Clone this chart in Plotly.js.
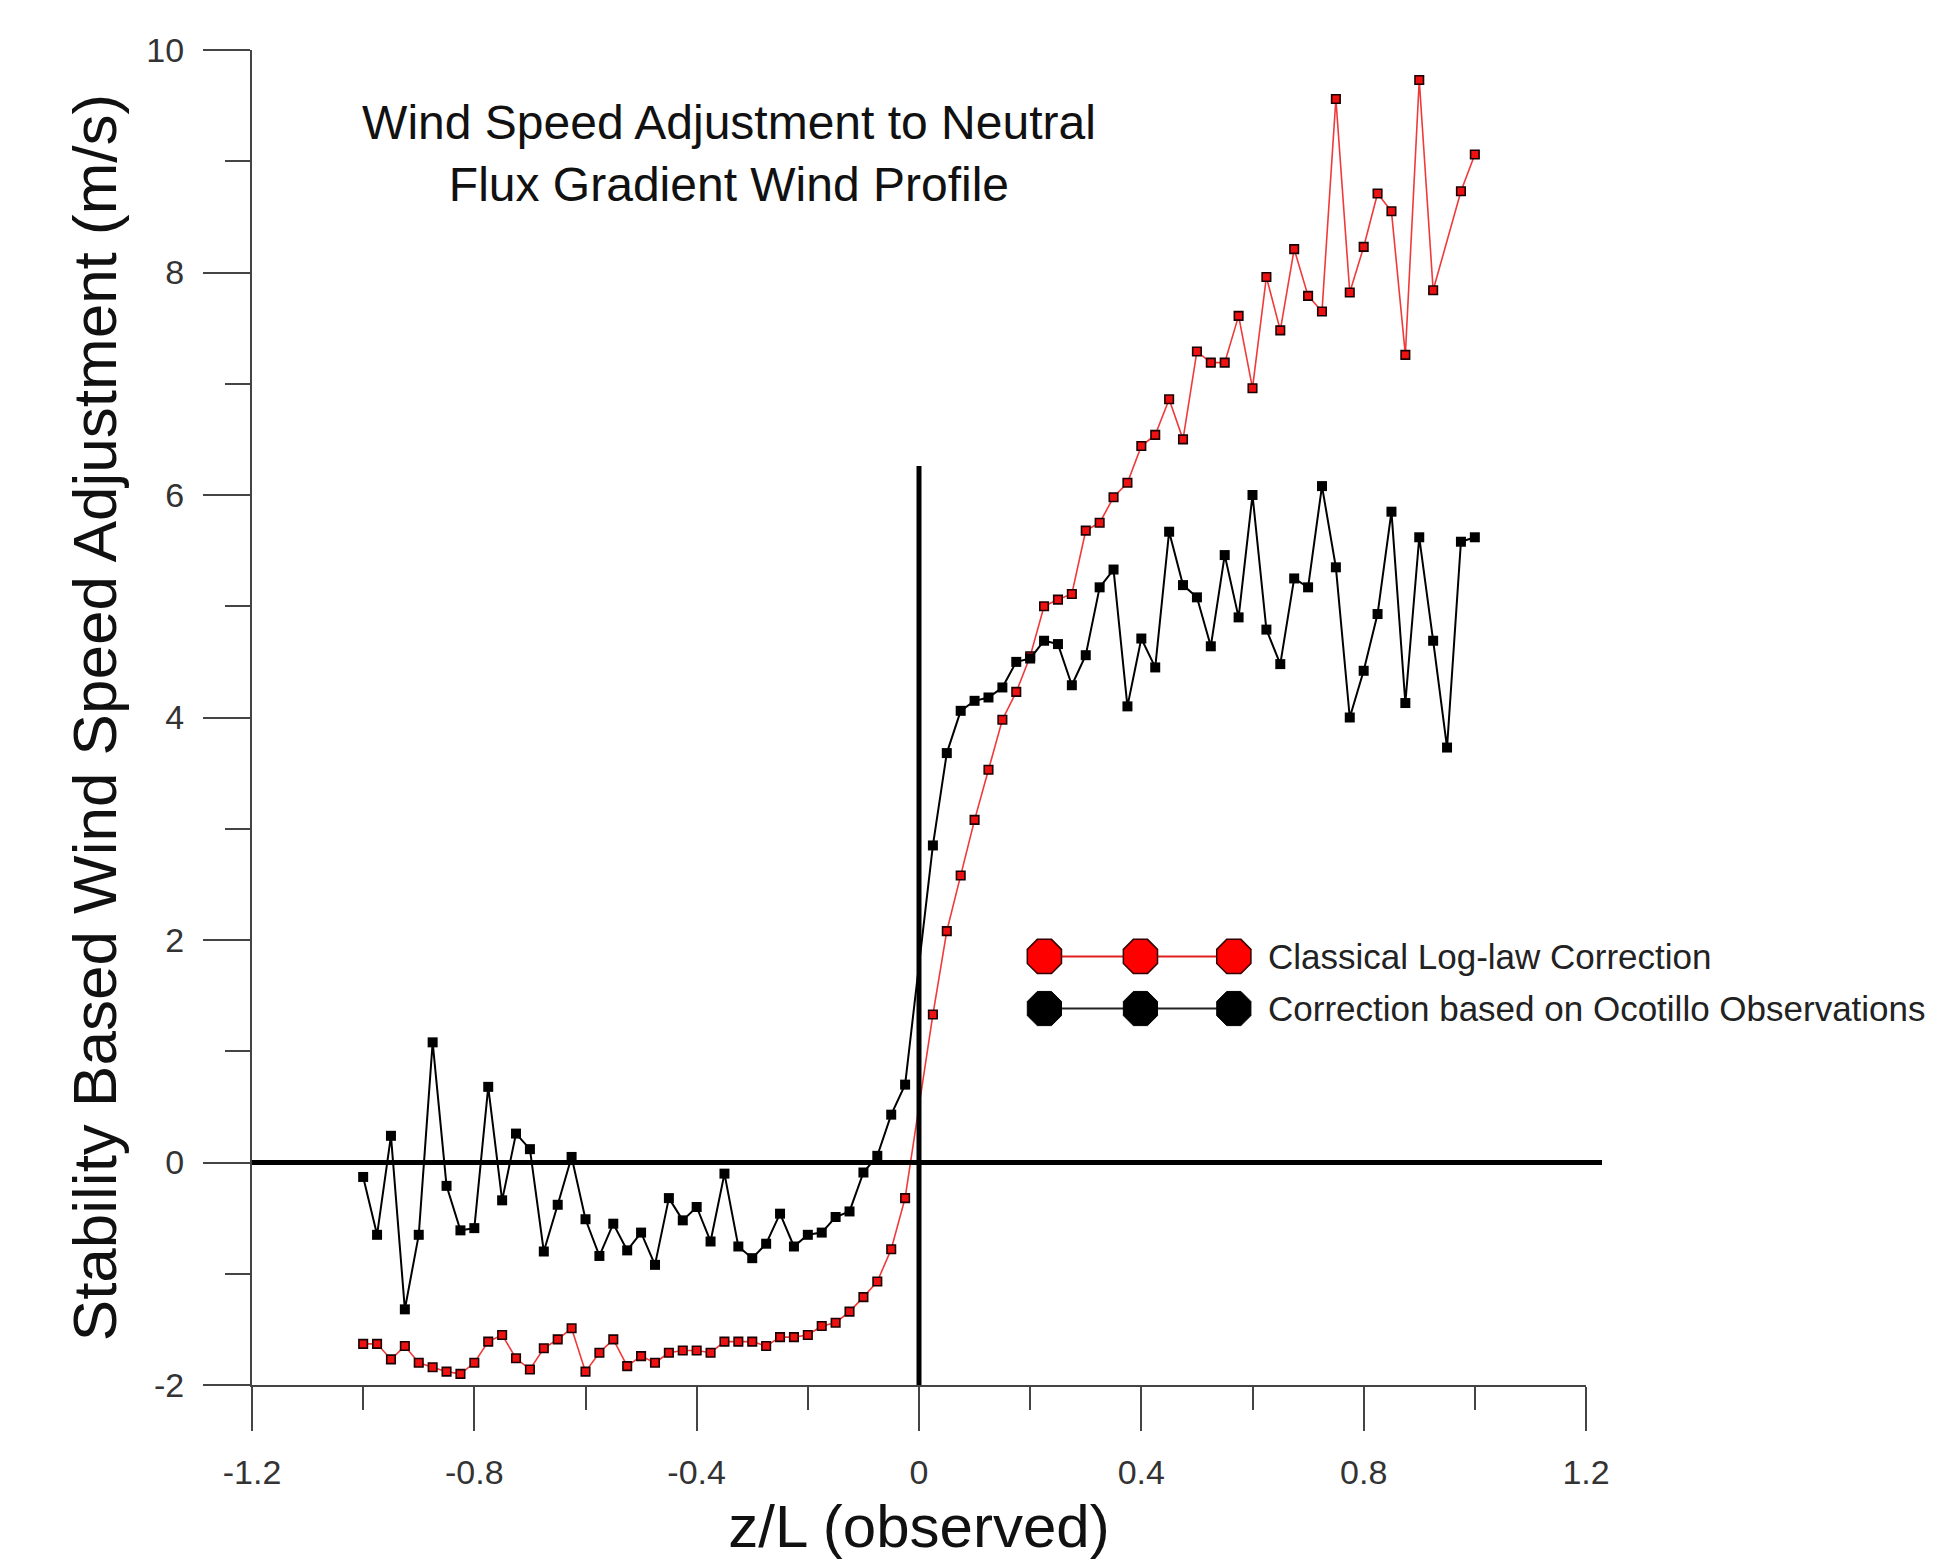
<!DOCTYPE html>
<html>
<head>
<meta charset="utf-8">
<script src="https://cdn.plot.ly/plotly-3.0.1.min.js"></script>
<style>
  html, body { margin: 0; padding: 0; background: #fff; }
  #chart { width: 1947px; height: 1562px; }
</style>
</head>
<body>
<div id="chart"></div>
<script>
// ---------------- DATA ----------------
const zL = [
  -1.000, -0.975, -0.950, -0.925, -0.900, -0.875, -0.850, -0.825, -0.800, -0.775,
  -0.750, -0.725, -0.700, -0.675, -0.650, -0.625, -0.600, -0.575, -0.550, -0.525,
  -0.500, -0.475, -0.450, -0.425, -0.400, -0.375, -0.350, -0.325, -0.300, -0.275,
  -0.250, -0.225, -0.200, -0.175, -0.150, -0.125, -0.100, -0.075, -0.050, -0.025,
   0.000,  0.025,  0.050,  0.075,  0.100,  0.125,  0.150,  0.175,  0.200,  0.225,
   0.250,  0.275,  0.300,  0.325,  0.350,  0.375,  0.400,  0.425,  0.450,  0.475,
   0.500,  0.525,  0.550,  0.575,  0.600,  0.625,  0.650,  0.675,  0.700,  0.725,
   0.750,  0.775,  0.800,  0.825,  0.850,  0.875,  0.900,  0.925,  0.950,  0.975,
   1.000
];

// Classical Log-law Correction (red)
const classicalLogLaw = [
  -1.63, -1.63, -1.77, -1.65, -1.80, -1.84, -1.88, -1.90, -1.80, -1.61,
  -1.55, -1.76, -1.86, -1.67, -1.59, -1.49, -1.88, -1.71, -1.59, -1.83,
  -1.74, -1.80, -1.71, -1.69, -1.69, -1.71, -1.61, -1.61, -1.61, -1.65,
  -1.57, -1.57, -1.55, -1.47, -1.44, -1.34, -1.21, -1.07, -0.78, -0.32,
  null,   1.33,  2.08,  2.58,  3.08,  3.53,  3.98,  4.23,  4.55,  5.00,
   5.06,  5.11,  5.68,  5.75,  5.98,  6.11,  6.44,  6.54,  6.86,  6.50,
   7.29,  7.19,  7.19,  7.61,  6.96,  7.96,  7.48,  8.21,  7.79,  7.65,
   9.56,  7.82,  8.23,  8.71,  8.55,  7.26,  9.73,  7.84,  null,   8.73,
   9.06
];

// Correction based on Ocotillo Observations (black)
const ocotilloObs = [
  -0.13, -0.65,  0.24, -1.32, -0.65,  1.08, -0.21, -0.61, -0.59,  0.68,
  -0.34,  0.26,  0.12, -0.80, -0.38,  0.05, -0.51, -0.84, -0.55, -0.79,
  -0.63, -0.92, -0.32, -0.52, -0.40, -0.71, -0.10, -0.755, -0.86, -0.73,
  -0.46, -0.755, -0.65, -0.63, -0.49, -0.44, -0.09,  0.06,  0.43,  0.70,
  null,   2.85,  3.68,  4.06,  4.15,  4.18,  4.27,  4.50,  4.53,  4.69,
   4.66,  4.29,  4.56,  5.17,  5.33,  4.10,  4.71,  4.45,  5.67,  5.19,
   5.08,  4.64,  5.46,  4.90,  6.00,  4.79,  4.48,  5.25,  5.17,  6.08,
   5.35,  4.00,  4.42,  4.93,  5.85,  4.13,  5.62,  4.69,  3.73,  5.58,
   5.62
];

const seriesNames = ['Classical Log-law Correction', 'Correction based on Ocotillo Observations'];
const chartTitle = 'Wind Speed Adjustment to Neutral<br>Flux Gradient Wind Profile';
const xTitle = 'z/L (observed)';
const yTitle = 'Stability Based Wind Speed Adjustment (m/s)';
const xRange = [-1.2, 1.2];
const yRange = [-2, 10];
const xTickVals = [-1.2, -0.8, -0.4, 0, 0.4, 0.8, 1.2];
const xTickText = ['-1.2', '-0.8', '-0.4', '0', '0.4', '0.8', '1.2'];
const yTickVals = [-2, 0, 2, 4, 6, 8, 10];
const yTickText = ['-2', '0', '2', '4', '6', '8', '10'];
const verticalRefTop = 6.26;   // top of the z/L = 0 reference line

// ---------------- STYLE / LAYOUT ----------------
const FONT = 'Liberation Sans, Arial, Helvetica, sans-serif';
const RED = '#ee1111';
const legendKeyX = [0.594, 0.666, 0.736];
const legendRowY = [0.321, 0.282];
const legendTextX = 0.760;

const traces = [
  {
    x: zL, y: classicalLogLaw, name: seriesNames[0], type: 'scatter', mode: 'lines+markers',
    connectgaps: true,
    line: { color: '#f03a3a', width: 1.6 },
    marker: { symbol: 'square', size: 8.5, color: RED, line: { color: '#1a0000', width: 1.6 } },
    showlegend: false, hoverinfo: 'x+y'
  },
  {
    x: zL, y: ocotilloObs, name: seriesNames[1], type: 'scatter', mode: 'lines+markers',
    connectgaps: true,
    line: { color: '#000', width: 2 },
    marker: { symbol: 'square', size: 10, color: '#000' },
    showlegend: false, hoverinfo: 'x+y'
  },
  // custom legend keys (three-marker glyphs), on an overlay axis pair spanning the plot area
  {
    x: legendKeyX, y: legendKeyX.map(() => legendRowY[0]), xaxis: 'x2', yaxis: 'y2',
    type: 'scatter', mode: 'lines+markers', showlegend: false, hoverinfo: 'skip', cliponaxis: false,
    line: { color: '#e02020', width: 2 },
    marker: { symbol: 'octagon', size: 37, color: '#ff0000', line: { color: '#300', width: 1.5 } }
  },
  {
    x: legendKeyX, y: legendKeyX.map(() => legendRowY[1]), xaxis: 'x2', yaxis: 'y2',
    type: 'scatter', mode: 'lines+markers', showlegend: false, hoverinfo: 'skip', cliponaxis: false,
    line: { color: '#222', width: 2 },
    marker: { symbol: 'octagon', size: 37, color: '#000', line: { color: '#000', width: 1 } }
  }
];

const layout = {
  width: 1947, height: 1562,
  paper_bgcolor: '#fff', plot_bgcolor: '#fff',
  margin: { l: 252, r: 361, t: 50, b: 177, pad: 0 },
  font: { family: FONT, color: '#222' },
  showlegend: false,
  title: {
    text: chartTitle,
    font: { family: FONT, size: 48, color: '#111' },
    xref: 'container', yref: 'container',
    x: 0.3744, xanchor: 'center',
    y: 0.911, yanchor: 'top'
  },
  xaxis: {
    range: xRange, autorange: false,
    showgrid: false, zeroline: false,
    showline: true, linecolor: '#444', linewidth: 2,
    ticks: 'outside', ticklen: 44, tickwidth: 2, tickcolor: '#444',
    tickmode: 'array', tickvals: xTickVals, ticktext: xTickText,
    tickfont: { family: FONT, size: 34, color: '#333' },
    ticklabelstandoff: 12,
    minor: { tickmode: 'linear', tick0: 0, dtick: 0.2, ticks: 'outside', ticklen: 23, tickwidth: 2, tickcolor: '#444', showgrid: false },
    title: { text: xTitle, font: { family: FONT, size: 60, color: '#111' }, standoff: 15 },
    automargin: false
  },
  yaxis: {
    range: yRange, autorange: false,
    showgrid: false, zeroline: false,
    showline: true, linecolor: '#444', linewidth: 2,
    ticks: 'outside', ticklen: 47, tickwidth: 2, tickcolor: '#444',
    tickmode: 'array', tickvals: yTickVals, ticktext: yTickText,
    tickfont: { family: FONT, size: 34, color: '#333' },
    ticklabelstandoff: 12,
    minor: { tickmode: 'linear', tick0: 0, dtick: 1, ticks: 'outside', ticklen: 25, tickwidth: 2, tickcolor: '#444', showgrid: false },
    title: { text: yTitle, font: { family: FONT, size: 62, color: '#111' }, standoff: 10 },
    automargin: false
  },
  xaxis2: { overlaying: 'x', range: [0, 1], visible: false, fixedrange: true },
  yaxis2: { overlaying: 'y', range: [0, 1], visible: false, fixedrange: true },
  shapes: [
    { type: 'line', layer: 'above', xref: 'paper', yref: 'y', x0: 0, x1: 1.012, y0: 0, y1: 0,
      line: { color: '#000', width: 5 } },
    { type: 'line', layer: 'above', xref: 'x', yref: 'y', x0: 0, x1: 0, y0: yRange[0], y1: verticalRefTop,
      line: { color: '#000', width: 5 } }
  ],
  annotations: [
    { xref: 'paper', yref: 'paper', x: legendTextX, y: legendRowY[0], xanchor: 'left', yanchor: 'middle',
      text: seriesNames[0], showarrow: false, font: { family: FONT, size: 35, color: '#222' } },
    { xref: 'paper', yref: 'paper', x: legendTextX, y: legendRowY[1], xanchor: 'left', yanchor: 'middle',
      text: seriesNames[1], showarrow: false, font: { family: FONT, size: 35, color: '#222' } }
  ]
};

Plotly.newPlot('chart', traces, layout, { staticPlot: true, displayModeBar: false });
</script>
</body>
</html>
